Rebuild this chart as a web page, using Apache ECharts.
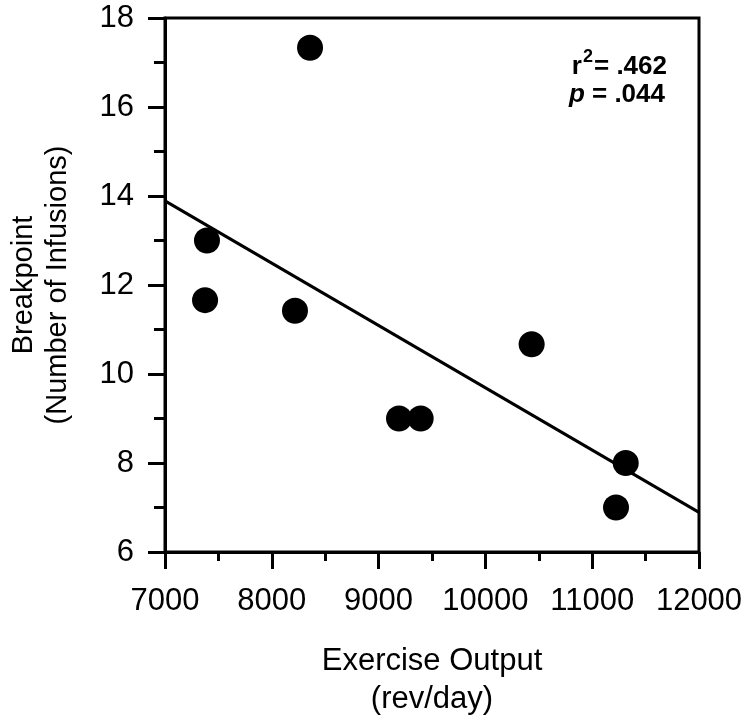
<!DOCTYPE html>
<html>
<head>
<meta charset="utf-8">
<script src="https://cdn.jsdelivr.net/npm/echarts@6/dist/echarts.min.js"></script>
<style>html,body{margin:0;padding:0;background:#fff;}#c{width:750px;height:720px;}</style>
</head>
<body>
<div id="c"></div>
<script>
var exerciseOutput = [8358, 7393, 7375, 8217, 9191, 9394, 10433, 11314, 11223];
var breakpoint = [17.33, 13.0, 11.66, 11.42, 9.0, 9.0, 10.67, 8.0, 7.0];
var fitX = [7000, 12000];
var fitY = [13.89, 6.89];
var xTicks = [7000, 8000, 9000, 10000, 11000, 12000];
var yTicks = [6, 8, 10, 12, 14, 16, 18];
var stats = { r2: '.462', p: '.044' };

var pts = exerciseOutput.map(function (x, i) { return [x, breakpoint[i]]; });
var fit = fitX.map(function (x, i) { return [x, fitY[i]]; });
var font = '"Liberation Sans", Arial, sans-serif';

var chart = echarts.init(document.getElementById('c'), null, { renderer: 'canvas' });
chart.setOption({
  animation: false,
  backgroundColor: '#fff',
  grid: { left: 165, right: 51, top: 18, bottom: 168, containLabel: false, outerBoundsMode: 'none',
    show: true, borderColor: '#000', borderWidth: 3, backgroundColor: 'transparent' },
  xAxis: {
    type: 'value', min: xTicks[0], max: xTicks[xTicks.length - 1], interval: 1000,
    name: 'Exercise Output\n(rev/day)', nameLocation: 'middle', nameGap: 90,
    nameTextStyle: { fontFamily: font, fontSize: 31, color: '#000', lineHeight: 38 },
    axisLine: { lineStyle: { color: '#000', width: 3 } },
    axisTick: { length: 17, lineStyle: { color: '#000', width: 3 } },
    minorTick: { show: true, splitNumber: 2, length: 9, lineStyle: { color: '#000', width: 3 } },
    axisLabel: { fontFamily: font, fontSize: 31, color: '#000', margin: 34, formatter: function (v) { return String(v); } },
    splitLine: { show: false }
  },
  yAxis: {
    type: 'value', min: yTicks[0], max: yTicks[yTicks.length - 1], interval: 2,
    name: 'Breakpoint\n(Number of Infusions)', nameLocation: 'middle', nameGap: 90, nameRotate: 90,
    nameTextStyle: { fontFamily: font, fontSize: 29, color: '#000', lineHeight: 34 },
    axisLine: { lineStyle: { color: '#000', width: 3 } },
    axisTick: { length: 17, lineStyle: { color: '#000', width: 3 } },
    minorTick: { show: true, splitNumber: 2, length: 11, lineStyle: { color: '#000', width: 3 } },
    axisLabel: { fontFamily: font, fontSize: 31, color: '#000', margin: 31, formatter: function (v) { return String(v); } },
    splitLine: { show: false }
  },
  series: [
    { type: 'line', data: fit, showSymbol: false, symbol: 'none', lineStyle: { color: '#000', width: 3 }, z: 2 },
    { type: 'scatter', data: pts, symbol: 'circle', symbolSize: 26, itemStyle: { color: '#000', opacity: 1 }, z: 3 }
  ],
  graphic: [
    { type: 'text', right: 83, top: 48, style: {
      text: '{b|r}{sup|2}{b|= ' + stats.r2 + '}',
      rich: {
        b: { fontFamily: font, fontSize: 26, fontWeight: 'bold', fill: '#000', verticalAlign: 'bottom', lineHeight: 32 },
        sup: { fontFamily: font, fontSize: 18, fontWeight: 'bold', fill: '#000', verticalAlign: 'top', lineHeight: 32, padding: [0, 1, 16, 1] }
      }
    } },
    { type: 'text', right: 85, top: 82, style: {
      text: '{i|p}{b| = ' + stats.p + '}',
      rich: {
        i: { fontFamily: font, fontSize: 26, fontWeight: 'bold', fontStyle: 'italic', fill: '#000' },
        b: { fontFamily: font, fontSize: 26, fontWeight: 'bold', fill: '#000' }
      }
    } }
  ]
});
</script>
</body>
</html>
